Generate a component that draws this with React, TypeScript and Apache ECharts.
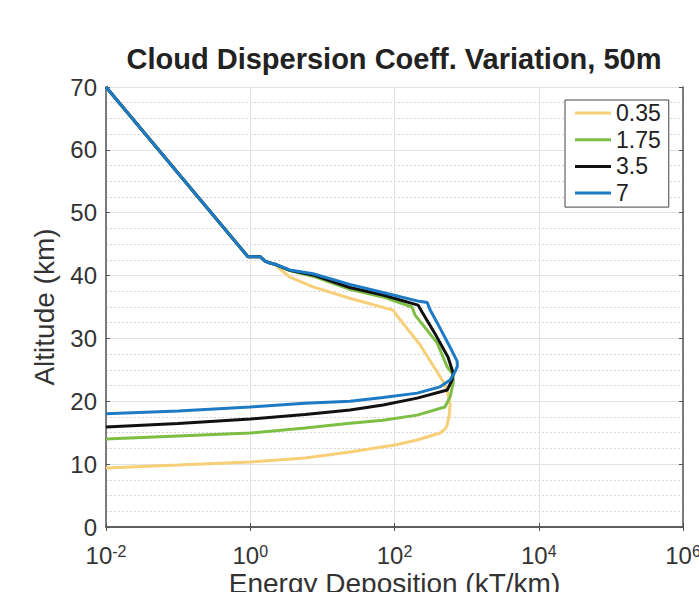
import React, { useEffect, useRef } from "react";
import * as echarts from "echarts";

// Shared upper segment (all series coincide above ~42 km)
const upperEnergy = [0.01, 0.93, 1.37, 1.6, 1.88, 2.2];
const upperAltitude = [70, 43.0, 43.0, 42.3, 42.0, 41.8];

const seriesNames = ["0.35", "1.75", "3.5", "7"];
const seriesColors = ["#F6CF78", "#7DBE45", "#111111", "#1C7BC4"];

const energy035 = [2.6, 3.5, 7.4, 24, 95.5, 112, 226, 429, 505, 556, 590, 573, 537, 505, 429, 206, 101, 24.2, 5.75, 1, 0.1, 0.01];
const altitude035 = [41.0, 39.8, 38.2, 36.4, 34.5, 33.4, 29.0, 23.9, 22.6, 21.0, 19.4, 17.8, 16.2, 15.6, 14.95, 13.84, 13.04, 11.93, 10.98, 10.34, 9.86, 9.39];

const energy175 = [3.5, 7.4, 24, 69, 175, 193, 390, 537, 650, 650, 590, 500, 206, 69.5, 24.2, 5.75, 1, 0.1, 0.01];
const altitude175 = [40.8, 39.9, 37.8, 36.6, 35.0, 33.7, 29.3, 25.5, 24.2, 22.9, 20.7, 19.1, 17.8, 17.0, 16.5, 15.75, 14.95, 14.48, 14.0];

const energy35 = [3.5, 7.4, 24, 69, 212, 241, 363, 553, 650, 630, 540, 206, 69.5, 24.2, 5.75, 1, 0.1, 0.01];
const altitude35 = [40.85, 40.1, 38.1, 36.9, 35.3, 34.2, 30.8, 27.0, 24.5, 23.4, 21.8, 20.5, 19.4, 18.6, 17.9, 17.18, 16.47, 15.9];

const energy7 = [3.5, 7.4, 24, 69, 220, 285, 310, 430, 590, 738, 745, 692, 590, 429, 206, 69.5, 24.2, 5.75, 1, 0.1, 0.01];
const altitude7 = [40.9, 40.3, 38.6, 37.3, 35.9, 35.7, 34.6, 31.6, 28.6, 26.4, 25.6, 24.7, 23.4, 22.3, 21.3, 20.6, 20.0, 19.7, 19.1, 18.45, 18.0];

const yTicks = { min: 0, max: 70, interval: 10 };
const xRange = { min: 0.01, max: 1e6 };

const FONT = "'Liberation Sans', Arial, Helvetica, sans-serif";

function pairs(e: number[], a: number[]) {
  const all_e = upperEnergy.concat(e);
  const all_a = upperAltitude.concat(a);
  return all_e.map((v, i) => [v, all_a[i]]);
}

export default function App() {
  const ref = useRef<HTMLDivElement>(null);
  useEffect(() => {
    document.body.style.margin = "0";
    if (!ref.current) return;
    const chart = echarts.init(ref.current, null, { renderer: "svg" });
    const data = [
      pairs(energy035, altitude035),
      pairs(energy175, altitude175),
      pairs(energy35, altitude35),
      pairs(energy7, altitude7),
    ];
    const axisColor = "#555555";
    const labelColor = "#333333";
    chart.setOption({
      animation: false,
      backgroundColor: "#ffffff",
      title: {
        text: "Cloud Dispersion Coeff. Variation, 50m",
        left: 394,
        top: 44,
        textAlign: "center",
        padding: 0,
        textStyle: { fontFamily: FONT, fontSize: 29, fontWeight: "bold", color: "#222" },
      },
      grid: { left: 106, top: 87, width: 577, height: 440, show: false, outerBoundsMode: "none", containLabel: false },
      legend: {
        orient: "vertical",
        left: 565,
        top: 100,
        data: seriesNames,
        icon: "rect",
        itemWidth: 36,
        itemHeight: 3,
        itemGap: 3.7,
        padding: [1.5, 8, 2.5, 10],
        borderColor: "#444",
        borderWidth: 1,
        backgroundColor: "#fff",
        textStyle: { fontFamily: FONT, fontSize: 23, color: "#222", lineHeight: 23 },
      },
      xAxis: [
        {
          type: "log",
          logBase: 10,
          min: xRange.min,
          max: xRange.max,
          interval: 2,
          position: "bottom",
          name: "Energy Deposition (kT/km)",
          nameLocation: "middle",
          nameGap: 42,
          nameMoveOverlap: false,
          nameTextStyle: { fontFamily: FONT, fontSize: 28, color: labelColor },
          axisLine: { show: true, lineStyle: { color: axisColor, width: 1.5 } },
          axisTick: { show: true, inside: true, length: 4, lineStyle: { color: axisColor } },
          minorTick: { show: false },
          axisLabel: {
            margin: 16,
            formatter: (v: number) => "{b|10}{s|" + Math.round(Math.log10(v)) + "}",
            rich: {
              b: { fontFamily: FONT, fontSize: 24, color: labelColor },
              s: { fontFamily: FONT, fontSize: 16, color: labelColor, verticalAlign: "top" },
            },
          },
          splitLine: { show: true, lineStyle: { color: "#e2e2e2", width: 1 } },
        },
        {
          type: "log",
          logBase: 10,
          min: xRange.min,
          max: xRange.max,
          interval: 2,
          position: "top",
          axisLine: { show: true, lineStyle: { color: axisColor, width: 1.5 } },
          axisTick: { show: true, inside: true, length: 4, lineStyle: { color: axisColor } },
          axisLabel: { show: false },
          splitLine: { show: false },
        },
      ],
      yAxis: [
        {
          type: "value",
          min: yTicks.min,
          max: yTicks.max,
          interval: yTicks.interval,
          position: "left",
          name: "Altitude (km)",
          nameLocation: "middle",
          nameRotate: 90,
          nameGap: 48,
          nameMoveOverlap: false,
          nameTextStyle: { fontFamily: FONT, fontSize: 28, color: labelColor },
          axisLine: { show: true, lineStyle: { color: axisColor, width: 1.5 } },
          axisTick: { show: true, inside: true, length: 4, lineStyle: { color: axisColor } },
          minorTick: { show: false, splitNumber: 4 },
          minorSplitLine: { show: true, lineStyle: { color: "#d6d6d6", type: [2, 2], width: 1 } },
          axisLabel: { margin: 9, fontFamily: FONT, fontSize: 24, color: labelColor },
          splitLine: { show: true, lineStyle: { color: "#e2e2e2", width: 1 } },
        },
        {
          type: "value",
          min: yTicks.min,
          max: yTicks.max,
          interval: yTicks.interval,
          position: "right",
          axisLine: { show: true, lineStyle: { color: axisColor, width: 1.5 } },
          axisTick: { show: true, inside: true, length: 4, lineStyle: { color: axisColor } },
          axisLabel: { show: false },
          splitLine: { show: false },
        },
      ],
      series: seriesNames.map((name, i) => ({
        name,
        type: "line",
        xAxisIndex: 0,
        yAxisIndex: 0,
        data: data[i],
        symbol: "none",
        showSymbol: false,
        smooth: false,
        z: 2 + i,
        lineStyle: { color: seriesColors[i], width: 3 },
        itemStyle: { color: seriesColors[i] },
      })),
    });
    return () => chart.dispose();
  }, []);
  return <div ref={ref} style={{ width: 699, height: 592 }} />;
}
